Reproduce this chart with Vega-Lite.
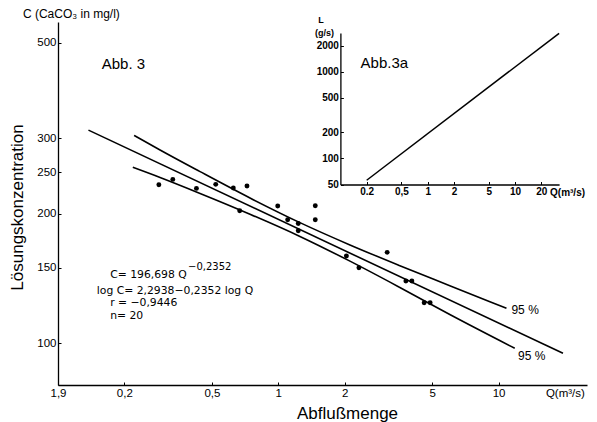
{
  "$schema": "https://vega.github.io/schema/vega-lite/v6.json",
  "width": 529,
  "height": 363,
  "autosize": "none",
  "padding": {"left": 58, "top": 22, "right": 10, "bottom": 37},
  "background": "white",
  "config": {
    "view": {"stroke": null},
    "font": "Liberation Sans",
    "axis": {"domainColor": "black", "domainWidth": 1.3, "tickColor": "black", "labelColor": "black", "titleColor": "black", "grid": false, "labelFont": "Liberation Sans", "titleFont": "Liberation Sans", "titleFontWeight": "normal"},
    "text": {"color": "black", "font": "Liberation Sans"}
  },
  "datasets": {
    "points": [
      {"Q": 0.287, "C": 233.8}, {"Q": 0.332, "C": 240.6}, {"Q": 0.425, "C": 229.3}, {"Q": 0.52, "C": 234.3},
      {"Q": 0.625, "C": 229.7}, {"Q": 0.668, "C": 203.4}, {"Q": 0.721, "C": 232.2}, {"Q": 0.994, "C": 208.6},
      {"Q": 1.103, "C": 193.9}, {"Q": 1.232, "C": 190.0}, {"Q": 1.232, "C": 182.7}, {"Q": 1.472, "C": 208.9},
      {"Q": 1.472, "C": 193.9}, {"Q": 2.038, "C": 159.6}, {"Q": 2.323, "C": 149.9}, {"Q": 3.121, "C": 162.8},
      {"Q": 3.795, "C": 139.6}, {"Q": 4.04, "C": 139.6}, {"Q": 4.594, "C": 124.3}, {"Q": 4.89, "C": 124.3}
    ],
    "lines": [
      {"series": "fit", "Q": 0.1375, "C": 313.3}, {"series": "fit", "Q": 19.6, "C": 94.8},
      {"series": "upper", "Q": 0.2216, "C": 304.6}, {"series": "upper", "Q": 0.2906, "C": 281.6},
      {"series": "upper", "Q": 0.4415, "C": 250.8}, {"series": "upper", "Q": 0.744, "C": 217.8},
      {"series": "upper", "Q": 1.254, "C": 190.9}, {"series": "upper", "Q": 2.115, "C": 169.4},
      {"series": "upper", "Q": 3.564, "C": 151.6}, {"series": "upper", "Q": 6.006, "C": 136.2},
      {"series": "upper", "Q": 10.86, "C": 120.6},
      {"series": "lower", "Q": 0.2186, "C": 256.7}, {"series": "lower", "Q": 0.2906, "C": 243.1},
      {"series": "lower", "Q": 0.4415, "C": 223.2}, {"series": "lower", "Q": 0.744, "C": 199.7},
      {"series": "lower", "Q": 1.254, "C": 177.3}, {"series": "lower", "Q": 2.115, "C": 155.3},
      {"series": "lower", "Q": 3.564, "C": 134.9}, {"series": "lower", "Q": 6.006, "C": 116.7},
      {"series": "lower", "Q": 11.84, "C": 97.4}
    ],
    "inset": [{"Q": 0.2, "L": 56}, {"Q": 32, "L": 2770}]
  },
  "layer": [
    {
      "encoding": {
        "x": {"field": "Q", "type": "quantitative",
          "scale": {"type": "log", "domain": [0.1, 25.2], "nice": false, "zero": false},
          "axis": {"values": [0.1, 0.2, 0.5, 1, 2, 5, 10, 20],
            "labelExpr": "datum.value == 0.1 ? '1,9' : datum.value == 0.2 ? '0,2' : datum.value == 0.5 ? '0,5' : datum.value == 20 ? 'Q(m³/s)' : datum.label",
            "tickSize": -3, "tickColor": {"condition": {"test": "datum.value >= 20", "value": "transparent"}, "value": "black"},
            "labelPadding": 5, "labelFontSize": 11.5, "labelFlush": false, "labelOverlap": false,
            "title": "Abflußmenge", "titleFontSize": 17, "titleX": 289, "titleY": 28, "titleBaseline": "middle", "titleAlign": "center"}},
        "y": {"field": "C", "type": "quantitative",
          "scale": {"type": "log", "domain": [80, 559], "nice": false, "zero": false},
          "axis": {"values": [100, 150, 200, 250, 300, 500], "tickSize": -3, "labelPadding": 5, "labelFontSize": 11.5, "labelOverlap": false,
            "title": "Lösungskonzentration", "titleFontSize": 17, "titleX": -41, "titleY": 185, "titleBaseline": "middle", "titleAlign": "center", "titleAngle": -90}}
      },
      "layer": [
        {"data": {"name": "lines"}, "mark": {"type": "line", "color": "black", "strokeWidth": 1.6, "interpolate": "monotone"},
          "encoding": {"detail": {"field": "series"}}},
        {"data": {"name": "points"}, "mark": {"type": "circle", "color": "black", "opacity": 1, "size": 24}},
        {"data": {"values": [{"Q": 0.158, "C": 446, "text": "Abb. 3"}, {"Q": 2.364, "C": 448, "text": "Abb.3a"}]},
          "mark": {"type": "text", "align": "left", "baseline": "middle", "fontSize": 15},
          "encoding": {"text": {"field": "text"}}},
        {"data": {"values": [{"Q": 0.0693, "C": 583, "text": "C (CaCO₃ in mg/l)"}]},
          "mark": {"type": "text", "align": "left", "baseline": "middle", "fontSize": 12},
          "encoding": {"text": {"field": "text"}}},
        {"data": {"values": [
            {"Q": 0.1725, "C": 144.2, "text": "C= 196,698 Q"},
            {"Q": 0.15, "C": 132.5, "text": "log C= 2,2938−0,2352 log Q"},
            {"Q": 0.1725, "C": 123.8, "text": "r = −0,9446"},
            {"Q": 0.1725, "C": 115.7, "text": "n= 20"}]},
          "mark": {"type": "text", "align": "left", "baseline": "middle", "fontSize": 10.8, "font": "DejaVu Sans"},
          "encoding": {"text": {"field": "text"}}},
        {"data": {"values": [
            {"Q": 11.44, "C": 119.5, "text": "95 %"},
            {"Q": 12.26, "C": 93.4, "text": "95 %"}]},
          "mark": {"type": "text", "align": "left", "baseline": "middle", "fontSize": 12},
          "encoding": {"text": {"field": "text"}}},
        {"data": {"values": [{"Q": 0.3895, "C": 150.5, "text": "−0,2352"}]},
          "mark": {"type": "text", "align": "left", "baseline": "middle", "fontSize": 10, "font": "DejaVu Sans"},
          "encoding": {"text": {"field": "text"}}}
      ]
    },
    {
      "encoding": {
        "x": {"field": "Q", "type": "quantitative",
          "scale": {"type": "log", "domain": [0.1, 32], "range": [282.4, 501.1], "nice": false, "zero": false},
          "axis": {"orient": "bottom", "offset": -200.5, "values": [0.2, 0.5, 1, 2, 5, 10, 20],
            "labelExpr": "datum.value == 0.2 ? '0.2' : datum.value == 0.5 ? '0,5' : datum.label",
            "tickSize": -3, "labelPadding": 5, "labelFontSize": 10, "labelFontWeight": "bold", "labelOverlap": false, "labelFlush": false, "title": null}},
        "y": {"field": "L", "type": "quantitative",
          "scale": {"type": "log", "domain": [50, 2800], "range": [162.5, 10.9], "nice": false, "zero": false},
          "axis": {"orient": "left", "offset": -282.4, "values": [50, 100, 200, 500, 1000, 2000], "format": "d",
            "tickSize": -3, "labelPadding": 5, "labelFontSize": 10, "labelFontWeight": "bold", "labelOverlap": false, "labelFlush": false, "title": null}}
      },
      "layer": [
        {"data": {"name": "inset"}, "mark": {"type": "line", "color": "black", "strokeWidth": 1.5}},
        {"data": {"values": [{"Q": 0.0601, "L": 3900, "text": "L"}, {"Q": 0.0656, "L": 2770, "text": "(g/s)"}]},
          "mark": {"type": "text", "align": "center", "baseline": "middle", "fontSize": 9, "fontWeight": "bold"},
          "encoding": {"text": {"field": "text"}}},
        {"data": {"values": [{"Q": 25.2, "L": 39.4, "text": "Q(m³/s)"}]},
          "mark": {"type": "text", "align": "left", "baseline": "middle", "fontSize": 10, "fontWeight": "bold"},
          "encoding": {"text": {"field": "text"}}}
      ]
    }
  ],
  "resolve": {"scale": {"x": "independent", "y": "independent"}, "axis": {"x": "independent", "y": "independent"}}
}
